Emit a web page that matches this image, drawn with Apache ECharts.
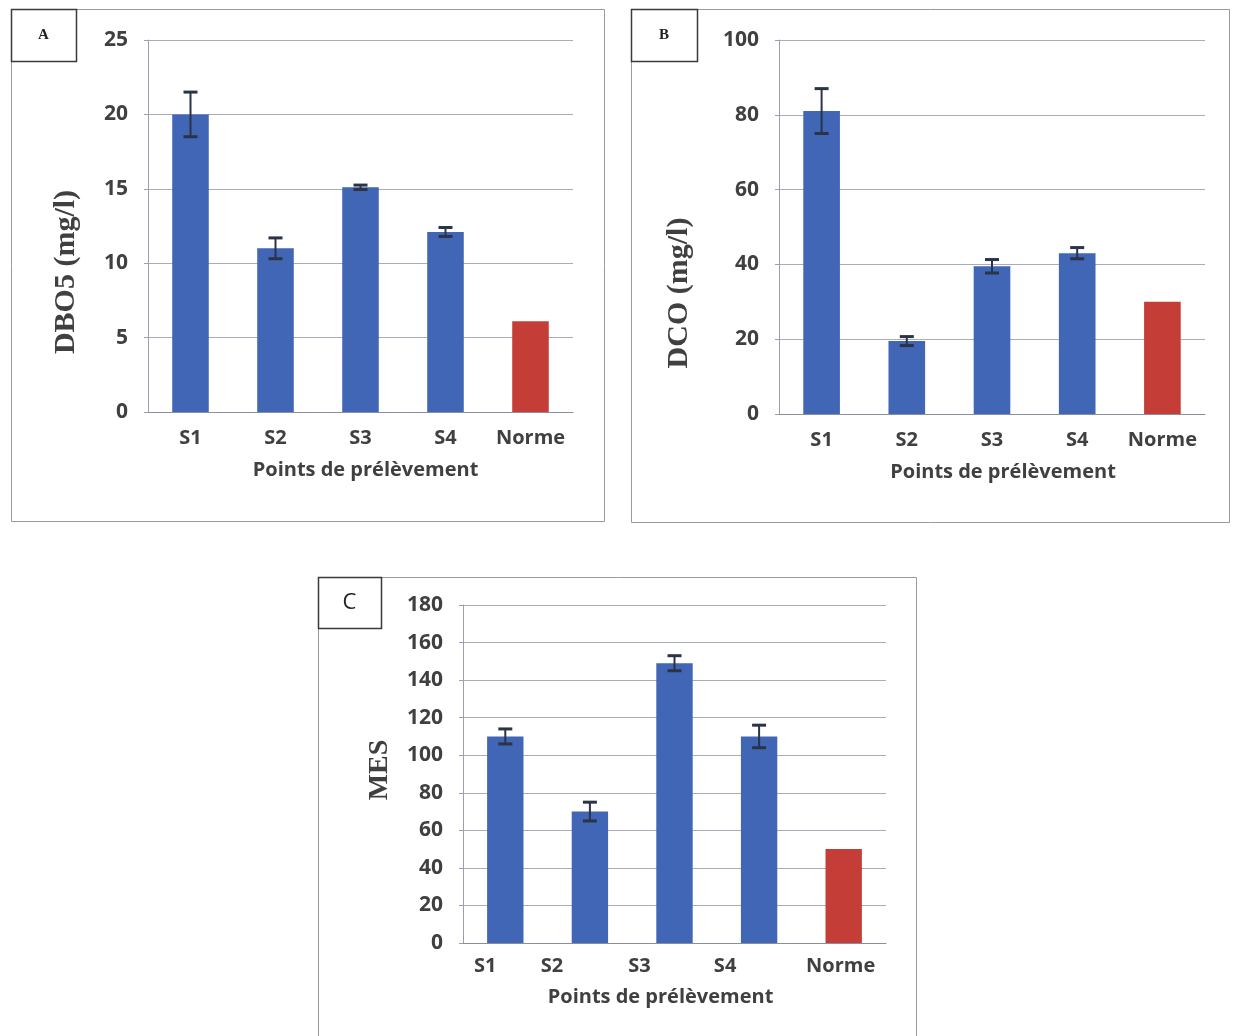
<!DOCTYPE html>
<html>
<head>
<meta charset="utf-8">
<style>html,body{margin:0;padding:0;background:#fff}#c{width:1238px;height:1036px}</style>
<script src="https://cdn.jsdelivr.net/npm/echarts@6/dist/echarts.min.js"></script>
</head>
<body>
<div id="c"></div>
<script>
const categories = ['S1', 'S2', 'S3', 'S4', 'Norme'];
const dboValues = [20.0, 11.0, 15.1, 12.1, 6.1];
const dboErrors = [1.5, 0.7, 0.15, 0.3, 0];
const dcoValues = [81, 19.5, 39.5, 43, 30];
const dcoErrors = [6, 1.2, 1.8, 1.5, 0];
const mesValues = [110, 70, 149, 110, 50];
const mesErrors = [4, 5, 4, 6, 0];
const dboTicks = { min: 0, max: 25, interval: 5 };
const dcoTicks = { min: 0, max: 100, interval: 20 };
const mesTicks = { min: 0, max: 180, interval: 20 };
const xTitle = 'Points de prélèvement';
const yTitles = ['DBO5 (mg/l)', 'DCO (mg/l)', 'MES'];
const panelLetters = ['A', 'B', 'C'];

const BLUE = '#4166B6';
const RED = '#C53D37';
const TXT = '#404040';
const sans = '"Open Sans", Lato, sans-serif';
const serif = '"Liberation Serif", "DejaVu Serif", serif';

const chart = echarts.init(document.getElementById('c'), null, { renderer: 'canvas' });

const grids = [
  { left: 148, top: 40, width: 425, height: 372 },
  { left: 779, top: 40, width: 426, height: 374 },
  { left: 463, top: 605, width: 423, height: 338 }
];
const ticks = [dboTicks, dcoTicks, mesTicks];
const values = [dboValues, dcoValues, mesValues];
const errors = [dboErrors, dcoErrors, mesErrors];
const labelMargins = [16, 16, 13];
const nameGaps = [48, 48, 44];
const namePads = [[0, 0, 0, 10], [0, 0, 0, 22], [0, 28, 0, 0]];
// panel C's category labels sit left of their bars in the reference
const cShift = [40, 76, 70, 68, 6];

const xAxes = grids.map((g, i) => ({
  type: 'category', gridIndex: i, data: categories,
  axisLine: { lineStyle: { color: '#8a8f9c', width: 1 } },
  axisTick: { show: false },
  axisLabel: i === 2 ? {
    interval: 0, hideOverlap: false,
    color: TXT, fontFamily: sans, fontWeight: 'bold', fontSize: 20, margin: labelMargins[i],
    formatter: (v, k) => '{c' + k + '|' + v + '}',
    rich: Object.fromEntries(cShift.map((p, k) => ['c' + k, { color: TXT, fontFamily: sans, fontWeight: 'bold', fontSize: 20, padding: [0, p, 0, 0] }]))
  } : { interval: 0, hideOverlap: false, color: TXT, fontFamily: sans, fontWeight: 'bold', fontSize: 20, margin: labelMargins[i] },
  name: xTitle, nameLocation: 'middle', nameGap: nameGaps[i],
  nameTextStyle: { color: TXT, fontFamily: sans, fontWeight: 'bold', fontSize: 20, padding: namePads[i] }
}));
const yAxes = grids.map((g, i) => ({
  type: 'value', gridIndex: i, min: ticks[i].min, max: ticks[i].max, interval: ticks[i].interval,
  axisLine: { show: true, lineStyle: { color: '#9aa0b0', width: 1 } },
  axisTick: { show: true, length: 4, lineStyle: { color: '#9aa0b0' } },
  splitLine: { lineStyle: { color: '#a9adb8', width: 1 } },
  axisLabel: { color: TXT, fontFamily: sans, fontWeight: 'bold', fontSize: 21, margin: 20 }
}));

const series = [];
values.forEach((vals, i) => {
  series.push({
    type: 'bar', xAxisIndex: i, yAxisIndex: i, barWidth: '43%',
    data: vals.map((v, k) => ({ value: v, itemStyle: { color: k === 4 ? RED : BLUE } })),
    z: 2
  });
  series.push({
    type: 'custom', xAxisIndex: i, yAxisIndex: i, z: 3,
    data: vals.map((v, k) => [k, v - errors[i][k], v + errors[i][k], errors[i][k]]),
    renderItem: function (params, api) {
      if (api.value(3) <= 0) return null;
      const lo = api.coord([api.value(0), api.value(1)]);
      const hi = api.coord([api.value(0), api.value(2)]);
      const w = 7;
      const c = '#2b3346';
      return {
        type: 'group', children: [
          { type: 'line', shape: { x1: hi[0], y1: hi[1], x2: lo[0], y2: lo[1] }, style: { stroke: c, lineWidth: 2 } },
          { type: 'line', shape: { x1: hi[0] - w, y1: hi[1], x2: hi[0] + w, y2: hi[1] }, style: { stroke: c, lineWidth: 3 } },
          { type: 'line', shape: { x1: lo[0] - w, y1: lo[1], x2: lo[0] + w, y2: lo[1] }, style: { stroke: c, lineWidth: 3 } }
        ]
      };
    }
  });
});

const panels = [
  { x: 11, y: 9, w: 593, h: 512 },
  { x: 631, y: 9, w: 598, h: 513 },
  { x: 318, y: 577, w: 598, h: 470 }
];
const labelBoxes = [
  { x: 11, y: 9, w: 65, h: 52 },
  { x: 631, y: 9, w: 66, h: 52 },
  { x: 318, y: 577, w: 63, h: 51 }
];
const yTitlePos = [
  { x: 66, y: 272, size: 30 },
  { x: 679, y: 293, size: 30 },
  { x: 380, y: 770, size: 28 }
];
const graphic = [];
panels.forEach(p => graphic.push({
  type: 'rect', shape: { x: p.x + 0.5, y: p.y + 0.5, width: p.w, height: p.h },
  style: { fill: 'none', stroke: '#9a9a9a', lineWidth: 1 }, silent: true
}));
labelBoxes.forEach((b, i) => {
  graphic.push({
    type: 'rect', shape: { x: b.x + 0.5, y: b.y + 0.5, width: b.w, height: b.h },
    style: { fill: '#fff', stroke: '#3a3a3a', lineWidth: 1.5 }, silent: true
  });
  graphic.push({
    type: 'text', x: b.x + b.w / 2, y: b.y + b.h / 2,
    style: {
      text: panelLetters[i], fill: '#222',
      font: i === 2 ? '22px ' + sans : 'bold 15px ' + serif,
      textAlign: 'center', textVerticalAlign: 'middle'
    },
    silent: true
  });
});
yTitles.forEach((t, i) => {
  const p = yTitlePos[i];
  graphic.push({
    type: 'text', x: p.x, y: p.y, rotation: Math.PI / 2,
    style: { text: t, fill: TXT, font: 'bold ' + p.size + 'px ' + serif, textAlign: 'center', textVerticalAlign: 'middle' },
    silent: true
  });
});

chart.setOption({
  backgroundColor: '#fff',
  animation: false,
  grid: grids,
  xAxis: xAxes,
  yAxis: yAxes,
  series: series,
  graphic: graphic
});
</script>
</body>
</html>
